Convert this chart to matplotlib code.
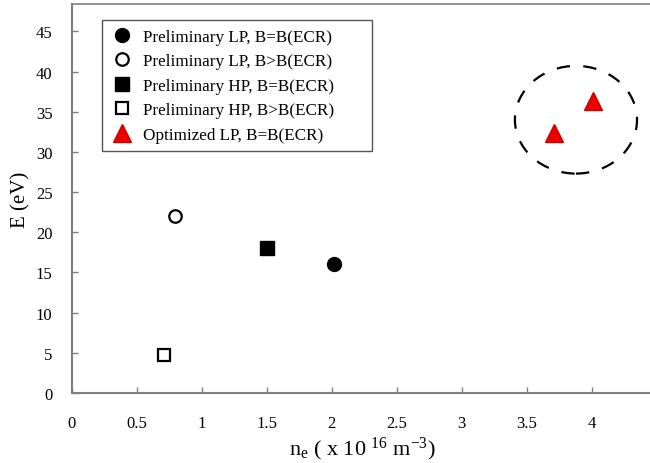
import matplotlib
matplotlib.use("Agg")
import matplotlib.pyplot as plt
from matplotlib.patches import Ellipse

plt.rcParams['font.family'] = ['Liberation Serif', 'DejaVu Serif']
plt.rcParams['mathtext.fontset'] = 'custom'
plt.rcParams['mathtext.rm'] = 'Liberation Serif'
plt.rcParams['mathtext.it'] = 'Liberation Serif'

# Data
labels = ["Preliminary LP, B=B(ECR)", "Preliminary LP, B>B(ECR)",
          "Preliminary HP, B=B(ECR)", "Preliminary HP, B>B(ECR)",
          "Optimized LP, B=B(ECR)"]
lp_eq_x = [2.02]
lp_eq_y = [16.0]
lp_gt_x = [0.79]
lp_gt_y = [22.0]
hp_eq_x = [1.50]
hp_eq_y = [18.1]
hp_gt_x = [0.71]
hp_gt_y = [4.7]
opt_x = [3.71, 4.01]
opt_y = [32.3, 36.3]
xticks = [0, 0.5, 1, 1.5, 2, 2.5, 3, 3.5, 4]
yticks = [0, 5, 10, 15, 20, 25, 30, 35, 40, 45]

fig = plt.figure(figsize=(6.5, 4.64), dpi=100)
ax = fig.add_axes([72/650, 70/464, (650-72)/650 + 0.01, 389/464])

ax.plot(lp_eq_x, lp_eq_y, 'o', color='black', markersize=10, label=labels[0], linestyle='none')
ax.plot(lp_gt_x, lp_gt_y, 'o', markerfacecolor='white', markeredgecolor='black', markeredgewidth=1.6,
        markersize=9, label=labels[1], linestyle='none')
ax.plot(hp_eq_x, hp_eq_y, 's', color='black', markersize=9.5, label=labels[2], linestyle='none')
ax.plot(hp_gt_x, hp_gt_y, 's', markerfacecolor='white', markeredgecolor='black', markeredgewidth=1.6,
        markersize=9, label=labels[3], linestyle='none')
ax.plot(opt_x, opt_y, '^', color='#ee0000', markeredgecolor='#cc0000', markersize=13, label=labels[4], linestyle='none')

ell = Ellipse((3.88, 34.0), 0.94, 13.4, fill=False, edgecolor='black', linewidth=1.6,
              linestyle=(0, (6, 6)))
ax.add_patch(ell)

ax.set_xlim(0, 4.5)
ax.set_ylim(0, 48.4)
ax.set_xticks(xticks)
ax.set_xticklabels([f"{t:g}" for t in xticks])
ax.set_yticks(yticks)
ax.set_yticklabels([f"{t:g}" for t in yticks])
ax.tick_params(direction='in', length=4, width=1, color='#808080', labelsize=12)
ax.tick_params(axis='x', pad=16)
ax.tick_params(axis='y', pad=14)

for s in ['left', 'bottom', 'top']:
    ax.spines[s].set_color('#808080')
    ax.spines[s].set_linewidth(1.5)
ax.spines['top'].set_linewidth(1.2)
ax.spines['right'].set_visible(False)

ax.set_ylabel("E (eV)", fontsize=15)
ax.yaxis.set_label_coords((31-72)/578, (394-200)/389)

fig.text(362/650, 1-449/464, r"n$_{\mathrm{e}}$ ( x 10 $^{16}$ m$^{-3}$)", fontsize=16,
         ha='center', va='center')

leg = ax.legend(loc='upper left', bbox_to_anchor=(102/650, 1-149/464, 270/650, 128/464),
                bbox_transform=fig.transFigure, borderaxespad=0, mode='expand',
                fancybox=False, frameon=True, edgecolor='#555555', framealpha=1,
                fontsize=12.3, labelspacing=0.5, handletextpad=0.6, borderpad=0.5,
                handlelength=1.3, numpoints=1)
leg.get_frame().set_linewidth(1.0)

fig.savefig("out.png", dpi=100)
